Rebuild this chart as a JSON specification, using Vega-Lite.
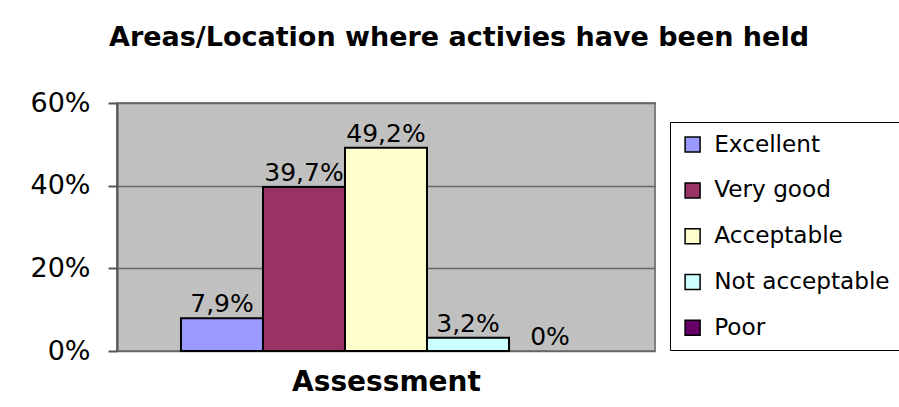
{
  "$schema": "https://vega.github.io/schema/vega-lite/v6.json",
  "width": 538,
  "height": 248,
  "autosize": {"type": "none"},
  "padding": {"left": 117, "top": 103, "right": 244, "bottom": 56},
  "background": "white",
  "config": {
    "locale": {"number": {"decimal": ",", "thousands": ".", "grouping": [3], "currency": ["", " €"]}},
    "font": "DejaVu Sans",
    "view": {"fill": "#C0C0C0", "stroke": "#808080", "strokeWidth": 2}
  },
  "title": {
    "text": "Areas/Location where activies have been held",
    "font": "DejaVu Sans",
    "fontSize": 27,
    "fontWeight": "bold",
    "color": "black",
    "anchor": "middle",
    "dx": 73,
    "offset": 37
  },
  "data": {
    "values": [
      {"rating": "Excellent", "share": 0.079},
      {"rating": "Very good", "share": 0.397},
      {"rating": "Acceptable", "share": 0.492},
      {"rating": "Not acceptable", "share": 0.032},
      {"rating": "Poor", "share": 0}
    ]
  },
  "encoding": {
    "x": {
      "field": "rating",
      "type": "nominal",
      "sort": ["Excellent", "Very good", "Acceptable", "Not acceptable", "Poor"],
      "scale": {"paddingInner": 0, "paddingOuter": 0.78},
      "axis": {
        "labels": false,
        "ticks": false,
        "domain": false,
        "title": "Assessment",
        "titleFont": "DejaVu Sans",
        "titleFontSize": 28,
        "titleFontWeight": "bold",
        "titleColor": "black",
        "titlePadding": 17
      }
    },
    "y": {
      "field": "share",
      "type": "quantitative",
      "scale": {"domain": [0, 0.6]},
      "axis": {
        "values": [0, 0.2, 0.4, 0.6],
        "format": ".0%",
        "title": null,
        "grid": true,
        "gridColor": "#666666",
        "gridWidth": 1.5,
        "domainColor": "#555555",
        "domainWidth": 2,
        "tickColor": "#555555",
        "tickSize": 9,
        "tickWidth": 2,
        "labelFont": "DejaVu Sans",
        "labelFontSize": 27,
        "labelColor": "black",
        "labelPadding": 18
      }
    }
  },
  "layer": [
    {
      "mark": {"type": "bar", "stroke": "black", "strokeWidth": 2},
      "encoding": {
        "color": {
          "field": "rating",
          "type": "nominal",
          "sort": ["Excellent", "Very good", "Acceptable", "Not acceptable", "Poor"],
          "scale": {
            "domain": ["Excellent", "Very good", "Acceptable", "Not acceptable", "Poor"],
            "range": ["#9999FF", "#993366", "#FFFFCC", "#CCFFFF", "#660066"]
          },
          "legend": {
            "orient": "none",
            "legendX": 553,
            "legendY": 19,
            "title": null,
            "strokeColor": "black",
            "fillColor": "white",
            "padding": 11,
            "symbolType": "square",
            "symbolSize": 225,
            "symbolStrokeColor": "black",
            "symbolStrokeWidth": 1.5,
            "labelFont": "DejaVu Sans",
            "labelFontSize": 23.2,
            "labelColor": "black",
            "labelOffset": 10,
            "labelLimit": 300,
            "rowPadding": 21.8
          }
        },
        "strokeOpacity": {"condition": {"test": "datum.share == 0", "value": 0}, "value": 1}
      }
    },
    {
      "mark": {"type": "text", "baseline": "alphabetic", "dy": -6, "fontSize": 25, "color": "black", "font": "DejaVu Sans"},
      "encoding": {
        "text": {"field": "share", "type": "quantitative", "format": ".1~%"}
      }
    }
  ]
}
